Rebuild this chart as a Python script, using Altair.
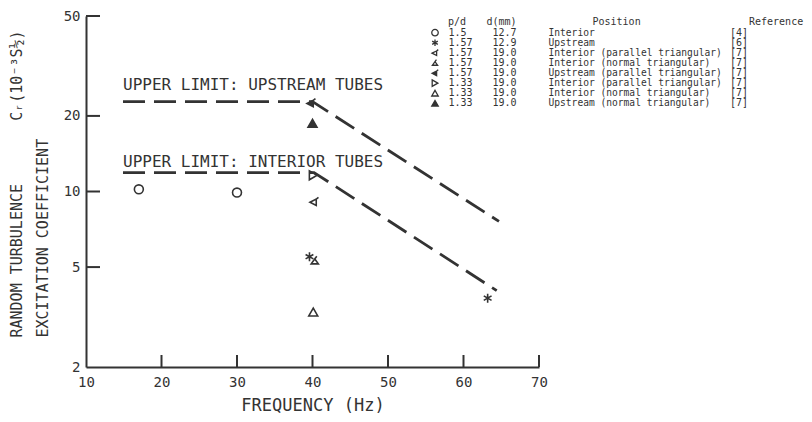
import altair as alt
import pandas as pd

INK = "#333333"
MONO = "DejaVu Sans Mono"
NB = "\u00a0"

# ---- legend table ----
pd_vals = ["1.5", "1.57", "1.57", "1.57", "1.57", "1.33", "1.33", "1.33"]
d_vals = ["12.7", "12.9", "19.0", "19.0", "19.0", "19.0", "19.0", "19.0"]
positions = [
    "Interior",
    "Upstream",
    "Interior (parallel triangular)",
    "Interior (normal triangular)",
    "Upstream (parallel triangular)",
    "Interior (parallel triangular)",
    "Interior (normal triangular)",
    "Upstream (normal triangular)",
]
refs = ["[4]", "[6]", "[7]", "[7]", "[7]", "[7]", "[7]", "[7]"]
headers = ["p/d", "d(mm)", "Position", "Reference"]

ASTER = "M0,-1L0,1M-0.87,-0.5L0.87,0.5M-0.87,0.5L0.87,-0.5"
PARA = "M-0.9,0.1L0.5,-0.6L0.5,0.8ZM0.5,-0.6L1,-1"
NORM = "M-0.8,0.7L0.8,0.7L0,-0.4ZM0,-0.4L0.45,-1"
shapes = ["circle", ASTER, PARA, NORM, PARA, "triangle-right", "triangle-up", "triangle-up"]
fills = ["transparent", "transparent", "transparent", "transparent", INK,
         "transparent", "transparent", INK]

series_keys = [f"{p} {d} {pos}" for p, d, pos in zip(pd_vals, d_vals, positions)]

# ---- measured points ----
point_series_idx = [0, 0, 1, 1, 2, 3, 4, 5, 6, 7]
point_freq = [17.0, 30.0, 39.6, 63.2, 40.2, 40.3, 39.8, 40.1, 40.1, 40.0]
point_cr = [10.2, 9.9, 5.5, 3.76, 9.1, 5.3, 22.5, 11.6, 3.31, 18.7]

# ---- upper-limit lines ----
limit_name = ["upstream", "upstream", "upstream", "interior", "interior", "interior"]
limit_seq = [0, 1, 2, 0, 1, 2]
limit_freq = [14.9, 40.0, 64.7, 14.9, 40.2, 64.4]
limit_cr = [22.8, 22.8, 7.6, 11.9, 11.9, 4.03]

ann_text = ["UPPER LIMIT: UPSTREAM TUBES", "UPPER LIMIT: INTERIOR TUBES"]
ann_freq = [14.9, 14.9]
ann_cr = [25.4, 12.57]

x_ticks = [10, 20, 30, 40, 50, 60, 70]
y_ticks = [2, 5, 10, 20, 50]

W, H = 453, 351
LEFT = 86  # page x of the plot's left edge (8 margin + 78 padding)

points = pd.DataFrame({
    "freq": point_freq,
    "cr": point_cr,
    "series": [series_keys[i] for i in point_series_idx],
})
limits = pd.DataFrame({"freq": limit_freq, "cr": limit_cr, "limit": limit_name, "seq": limit_seq})
ann = pd.DataFrame({"freq": ann_freq, "cr": ann_cr, "text": ann_text})
xt = pd.DataFrame({"freq": x_ticks[1:]})
yt = pd.DataFrame({"cr": y_ticks[1:]})
leg = pd.DataFrame({
    "row": list(range(len(pd_vals))),
    "series": series_keys, "pd": pd_vals, "d": d_vals, "pos": positions, "ref": refs,
})
hdr = pd.DataFrame({"row": [-1.1] * len(headers), "h": headers})

xscale = alt.Scale(domain=[10, 70], nice=False, zero=False)
yscale = alt.Scale(type="log", domain=[2, 50], nice=False)
shape_scale = alt.Scale(domain=series_keys, range=shapes)
fill_scale = alt.Scale(domain=series_keys, range=fills)
stroke_scale = alt.Scale(domain=series_keys, range=[INK] * len(series_keys))

y_title = ["RANDOM TURBULENCE" + NB * 7 + "C\u1d63(10\u207b\u00b3S\u00bd)", "EXCITATION COEFFICIENT"]

main = alt.Chart(points).mark_point(filled=True, size=80, strokeWidth=1.6, opacity=1).encode(
    x=alt.X("freq:Q", scale=xscale, axis=alt.Axis(
        values=x_ticks, format="d", ticks=False, tickSize=0, grid=False,
        domainColor=INK, domainWidth=2, labelFont=MONO, labelFontSize=14,
        labelColor=INK, labelPadding=8, labelFlush=False,
        title="FREQUENCY (Hz)", titleFont=MONO, titleFontSize=17,
        titleFontWeight="normal", titleColor=INK,
        titleBaseline="alphabetic", titleY=43)),
    y=alt.Y("cr:Q", scale=yscale, axis=alt.Axis(
        values=y_ticks, format="d", ticks=False, tickSize=0, grid=False,
        domainColor=INK, domainWidth=2, labelFont=MONO, labelFontSize=14,
        labelColor=INK, labelPadding=6,
        title=y_title, titleFont=MONO, titleFontSize=15, titleFontWeight="normal",
        titleColor=INK, titleAngle=270, titleAlign="left", titleBaseline="top",
        titleX=-77, titleY=321, titleLineHeight=26)),
    shape=alt.Shape("series:N", scale=shape_scale, legend=None),
    fill=alt.Fill("series:N", scale=fill_scale, legend=None),
    stroke=alt.Stroke("series:N", scale=stroke_scale, legend=None),
)

lines = alt.Chart(limits).mark_line(strokeDash=[22, 9], strokeWidth=2.8, color=INK).encode(
    x="freq:Q", y="cr:Q", detail="limit:N", order="seq:O",
)

texts = alt.Chart(ann).mark_text(align="left", baseline="alphabetic", font=MONO,
                                 fontSize=16, color=INK).encode(
    x="freq:Q", y="cr:Q", text="text:N",
)

ytick_rules = alt.Chart(yt).mark_rule(color=INK, strokeWidth=2).encode(
    y="cr:Q", x=alt.value(0), x2=alt.value(14))
xtick_rules = alt.Chart(xt).mark_rule(color=INK, strokeWidth=2).encode(
    x="freq:Q", y=alt.value(H - 12), y2=alt.value(H))

plot = alt.layer(main, lines, texts, ytick_rules, xtick_rules)

# ---- table-style legend (top right) ----
row_scale = alt.Scale(domain=[0, 7], range=[16.7, 87.3], nice=False, zero=False)
ry = alt.Y("row:Q", scale=row_scale, axis=None)

leg_sym = alt.Chart(leg).mark_point(filled=True, size=42, strokeWidth=1.3, opacity=1).encode(
    x=alt.value(435 - LEFT), y=ry,
    shape=alt.Shape("series:N", scale=shape_scale, legend=None),
    fill=alt.Fill("series:N", scale=fill_scale, legend=None),
    stroke=alt.Stroke("series:N", scale=stroke_scale, legend=None),
)


def col(field, px, align="left", size=10):
    return alt.Chart(leg).mark_text(align=align, baseline="middle", font=MONO,
                                    fontSize=size, color=INK).encode(
        x=alt.value(px - LEFT), y=ry, text=f"{field}:N")


leg_cols = [col("pd", 448.5), col("d", 492.5), col("pos", 548.5, size=9.6),
            col("ref", 739, "center")]

header_px = [448, 486.5, 592.5, 749]
leg_hdr = [
    alt.Chart(hdr[hdr["h"] == h]).mark_text(align="left", baseline="middle", font=MONO,
                                          fontSize=10, color=INK).encode(
        x=alt.value(px - LEFT), y=ry, text="h:N")
    for h, px in zip(headers, header_px)
]

legend_layer = alt.layer(leg_sym, *leg_cols, *leg_hdr)

chart = alt.layer(plot, legend_layer).resolve_scale(y="independent").properties(
    width=W, height=H,
    autosize=alt.AutoSizeParams(type="none"),
    padding={"left": 78, "top": 8, "right": 265, "bottom": 47},
    background="white",
).configure_view(stroke=None)

chart.save("out.html", embed_options={"renderer": "svg", "actions": False})
